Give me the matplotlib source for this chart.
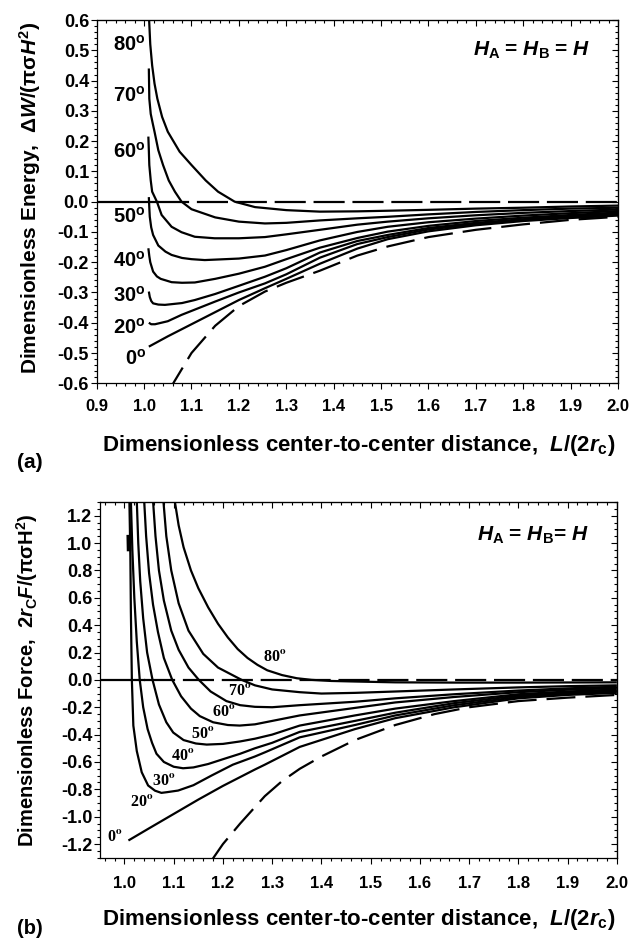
import numpy as np
import matplotlib
matplotlib.use('Agg')
import matplotlib.pyplot as plt
from matplotlib.ticker import MultipleLocator, NullFormatter, FuncFormatter

plt.rcParams['font.family'] = ['Liberation Sans', 'DejaVu Sans']
plt.rcParams['font.weight'] = 'bold'
plt.rcParams['axes.unicode_minus'] = False
plt.rcParams['mathtext.fontset'] = 'custom'
plt.rcParams['mathtext.rm'] = 'Liberation Sans:bold'
plt.rcParams['mathtext.it'] = 'Liberation Sans:italic:bold'
plt.rcParams['mathtext.bf'] = 'Liberation Sans:bold'
plt.rcParams['mathtext.sf'] = 'Liberation Sans:bold'

# ---- panel (a): dimensionless energy ----
ea80_x = [1.010, 1.013, 1.017, 1.022, 1.028, 1.038, 1.050, 1.075, 1.100, 1.130, 1.156, 1.191, 1.234, 1.30, 1.371, 1.45, 1.514, 1.6, 1.7, 1.8, 1.9, 2.0]
ea80_y = [0.62, 0.52, 0.45, 0.39, 0.34, 0.28, 0.231, 0.165, 0.121, 0.07, 0.033, 0.0, -0.018, -0.028, -0.033, -0.032, -0.030, -0.027, -0.023, -0.020, -0.016, -0.013]
ea70_x = [1.010, 1.011, 1.014, 1.018, 1.022, 1.030, 1.040, 1.052, 1.065, 1.079, 1.10, 1.15, 1.20, 1.255, 1.30, 1.371, 1.45, 1.514, 1.6, 1.7, 1.8, 1.9, 2.0]
ea70_y = [0.44, 0.34, 0.29, 0.26, 0.231, 0.17, 0.121, 0.07, 0.033, 0.0, -0.025, -0.052, -0.066, -0.072, -0.070, -0.062, -0.055, -0.050, -0.042, -0.034, -0.028, -0.023, -0.020]
ea60_x = [1.009, 1.010, 1.011, 1.014, 1.017, 1.027, 1.037, 1.058, 1.079, 1.107, 1.149, 1.20, 1.255, 1.30, 1.371, 1.45, 1.514, 1.6, 1.7, 1.8, 1.9, 2.0]
ea60_y = [0.215, 0.17, 0.121, 0.07, 0.033, 0.0, -0.044, -0.083, -0.101, -0.116, -0.121, -0.121, -0.117, -0.108, -0.093, -0.076, -0.066, -0.055, -0.045, -0.037, -0.031, -0.026]
ea50_x = [1.010, 1.011, 1.012, 1.015, 1.019, 1.03, 1.045, 1.058, 1.08, 1.10, 1.128, 1.2, 1.255, 1.30, 1.371, 1.45, 1.514, 1.6, 1.7, 1.8, 1.9, 2.0]
ea50_y = [0.015, -0.02, -0.05, -0.085, -0.11, -0.145, -0.165, -0.176, -0.186, -0.19, -0.193, -0.188, -0.178, -0.160, -0.128, -0.100, -0.083, -0.068, -0.056, -0.046, -0.038, -0.031]
ea40_x = [1.009, 1.011, 1.013, 1.019, 1.027, 1.035, 1.058, 1.08, 1.107, 1.15, 1.2, 1.255, 1.30, 1.371, 1.45, 1.514, 1.6, 1.7, 1.8, 1.9, 2.0]
ea40_y = [-0.154, -0.18, -0.20, -0.231, -0.247, -0.255, -0.266, -0.268, -0.267, -0.255, -0.238, -0.215, -0.19, -0.152, -0.12, -0.099, -0.08, -0.064, -0.053, -0.044, -0.036]
ea30_x = [1.010, 1.012, 1.015, 1.019, 1.03, 1.044, 1.08, 1.107, 1.15, 1.2, 1.255, 1.30, 1.371, 1.45, 1.514, 1.6, 1.7, 1.8, 1.9, 2.0]
ea30_y = [-0.297, -0.315, -0.328, -0.336, -0.340, -0.341, -0.335, -0.325, -0.305, -0.278, -0.248, -0.22, -0.168, -0.13, -0.11, -0.087, -0.070, -0.058, -0.048, -0.040]
ea20_x = [1.010, 1.015, 1.023, 1.05, 1.079, 1.15, 1.2, 1.255, 1.30, 1.371, 1.45, 1.514, 1.6, 1.7, 1.8, 1.9, 2.0]
ea20_y = [-0.400, -0.405, -0.405, -0.395, -0.374, -0.33, -0.30, -0.27, -0.24, -0.185, -0.14, -0.117, -0.092, -0.074, -0.061, -0.051, -0.043]
ea0_x = [1.010, 1.05, 1.1, 1.15, 1.2, 1.255, 1.30, 1.371, 1.45, 1.514, 1.6, 1.7, 1.8, 1.9, 2.0]
ea0_y = [-0.479, -0.445, -0.405, -0.365, -0.325, -0.286, -0.255, -0.205, -0.155, -0.124, -0.098, -0.078, -0.064, -0.054, -0.046]
ea_lim_x = [1.05, 1.1, 1.15, 1.2, 1.255, 1.30, 1.371, 1.45, 1.514, 1.6, 1.7, 1.8, 1.9, 2.0]
ea_lim_y = [-0.63, -0.50, -0.41, -0.345, -0.297, -0.268, -0.228, -0.178, -0.148, -0.117, -0.093, -0.075, -0.060, -0.050]

# ---- panel (b): dimensionless force ----
fb80_x = [1.102, 1.11, 1.12, 1.135, 1.15, 1.17, 1.19, 1.21, 1.23, 1.25, 1.27, 1.29, 1.32, 1.35, 1.38, 1.42, 1.468, 1.55, 1.67, 1.8, 1.9, 2.0]
fb80_y = [1.31, 1.13, 0.97, 0.80, 0.67, 0.53, 0.41, 0.31, 0.225, 0.16, 0.11, 0.07, 0.035, 0.012, 0.0, -0.008, -0.012, -0.018, -0.02, -0.02, -0.019, -0.018]
fb70_x = [1.079, 1.085, 1.095, 1.11, 1.13, 1.16, 1.19, 1.238, 1.265, 1.30, 1.356, 1.40, 1.468, 1.55, 1.67, 1.8, 1.9, 2.0]
fb70_y = [1.31, 1.05, 0.80, 0.56, 0.36, 0.19, 0.09, 0.0, -0.04, -0.07, -0.09, -0.10, -0.095, -0.085, -0.07, -0.055, -0.046, -0.04]
fb60_x = [1.058, 1.063, 1.07, 1.08, 1.095, 1.11, 1.13, 1.151, 1.175, 1.207, 1.235, 1.265, 1.30, 1.356, 1.468, 1.55, 1.67, 1.8, 1.9, 2.0]
fb60_y = [1.31, 1.05, 0.80, 0.58, 0.36, 0.22, 0.09, 0.0, -0.085, -0.155, -0.185, -0.197, -0.2, -0.185, -0.16, -0.135, -0.105, -0.078, -0.062, -0.05]
fb50_x = [1.040, 1.044, 1.05, 1.058, 1.068, 1.08, 1.097, 1.115, 1.135, 1.153, 1.18, 1.21, 1.234, 1.265, 1.30, 1.356, 1.468, 1.55, 1.67, 1.8, 1.9, 2.0]
fb50_y = [1.31, 1.05, 0.78, 0.55, 0.35, 0.16, 0.0, -0.12, -0.21, -0.265, -0.31, -0.33, -0.334, -0.325, -0.30, -0.26, -0.205, -0.165, -0.125, -0.09, -0.072, -0.06]
fb40_x = [1.025, 1.028, 1.032, 1.038, 1.046, 1.057, 1.07, 1.085, 1.099, 1.12, 1.145, 1.167, 1.2, 1.235, 1.265, 1.30, 1.356, 1.468, 1.55, 1.67, 1.8, 1.9, 2.0]
fb40_y = [1.31, 1.0, 0.72, 0.45, 0.2, 0.0, -0.18, -0.31, -0.385, -0.44, -0.465, -0.473, -0.468, -0.45, -0.43, -0.4, -0.334, -0.26, -0.21, -0.155, -0.105, -0.085, -0.07]
fb30_x = [1.013, 1.016, 1.02, 1.025, 1.031, 1.038, 1.047, 1.056, 1.065, 1.08, 1.10, 1.119, 1.14, 1.17, 1.2, 1.235, 1.265, 1.30, 1.356, 1.468, 1.55, 1.67, 1.8, 1.9, 2.0]
fb30_y = [1.31, 0.95, 0.6, 0.28, 0.0, -0.2, -0.36, -0.46, -0.54, -0.6, -0.635, -0.646, -0.64, -0.615, -0.58, -0.54, -0.50, -0.46, -0.38, -0.30, -0.24, -0.17, -0.115, -0.095, -0.08]
fb20_x = [1.010, 1.012, 1.013, 1.015, 1.018, 1.025, 1.035, 1.048, 1.062, 1.075, 1.086, 1.109, 1.14, 1.177, 1.22, 1.265, 1.285, 1.356, 1.468, 1.55, 1.67, 1.8, 1.9, 2.0]
fb20_y = [1.31, 0.9, 0.5, 0.0, -0.334, -0.52, -0.675, -0.772, -0.81, -0.826, -0.821, -0.809, -0.77, -0.699, -0.62, -0.56, -0.53, -0.42, -0.33, -0.26, -0.185, -0.125, -0.1, -0.085]
fb0_x = [1.008, 1.05, 1.1, 1.15, 1.2, 1.265, 1.285, 1.356, 1.468, 1.55, 1.67, 1.8, 1.9, 2.0]
fb0_y = [-1.174, -1.085, -0.98, -0.875, -0.775, -0.655, -0.62, -0.49, -0.36, -0.28, -0.20, -0.135, -0.11, -0.095]
fb_lim_x = [1.175, 1.2, 1.235, 1.265, 1.285, 1.32, 1.356, 1.40, 1.468, 1.55, 1.63, 1.7, 1.8, 1.9, 2.0]
fb_lim_y = [-1.33, -1.2, -1.05, -0.93, -0.85, -0.74, -0.65, -0.56, -0.44, -0.33, -0.25, -0.2, -0.155, -0.13, -0.11]
fb_spur_x = [1.0085, 1.0092]
fb_spur_y = [1.06, 0.94]

angles = ['0', '20', '30', '40', '50', '60', '70', '80']
# label anchors (right edge x, centre y) for panel (a)
lab_a_x = [1.004] * 8
lab_a_y = [-0.52, -0.415, -0.31, -0.195, -0.05, 0.165, 0.35, 0.52]
# label anchors for panel (b)
lab_b_x = [0.981, 1.035, 1.079, 1.119, 1.160, 1.201, 1.234, 1.305]
lab_b_y = [-1.15, -0.894, -0.736, -0.553, -0.395, -0.236, -0.078, 0.165]

fig = plt.figure(figsize=(6.32, 9.41), dpi=100)
ax1 = fig.add_axes([0.153, 0.5927, 0.825, 0.386])
ax2 = fig.add_axes([0.158, 0.0885, 0.818, 0.378])

lw = 1.6
dash_zero = (0, (14, 3.5))
dash_lim = (0, (13, 4.5))
fmt = FuncFormatter(lambda v, p: '%.1f' % (round(v, 1) + 0.0))

# panel (a)
for xs, ys in [(ea80_x, ea80_y), (ea70_x, ea70_y), (ea60_x, ea60_y), (ea50_x, ea50_y),
               (ea40_x, ea40_y), (ea30_x, ea30_y), (ea20_x, ea20_y), (ea0_x, ea0_y)]:
    ax1.plot(xs, ys, 'k-', lw=lw, solid_capstyle='butt')
ax1.plot(ea_lim_x, ea_lim_y, color='k', lw=lw, linestyle=dash_lim, dash_capstyle='butt')
ax1.plot([0.9, 1.03], [0, 0], 'k-', lw=lw)
ax1.plot([1.03, 2.0], [0, 0], color='k', lw=lw, linestyle=dash_zero, dash_capstyle='butt')
ax1.set_xlim(0.9, 2.0)
ax1.set_ylim(-0.6, 0.6)
ax1.xaxis.set_major_locator(MultipleLocator(0.1))
ax1.xaxis.set_minor_locator(MultipleLocator(0.02))
ax1.yaxis.set_major_locator(MultipleLocator(0.1))
ax1.yaxis.set_minor_locator(MultipleLocator(0.02))
for i, a in enumerate(angles):
    ax1.text(lab_a_x[i], lab_a_y[i], a + r'$^\mathrm{o}$', fontsize=14.5, fontweight='bold',
             ha='right', va='center')
ax1.text(1.694, 0.50, r'$H_\mathrm{A}$ = $H_\mathrm{B}$ = $H$', fontsize=15, fontweight='bold',
         ha='left', va='center')

# panel (b)
for xs, ys in [(fb80_x, fb80_y), (fb70_x, fb70_y), (fb60_x, fb60_y), (fb50_x, fb50_y),
               (fb40_x, fb40_y), (fb30_x, fb30_y), (fb20_x, fb20_y), (fb0_x, fb0_y)]:
    ax2.plot(xs, ys, 'k-', lw=lw, solid_capstyle='butt')
ax2.plot(fb_spur_x, fb_spur_y, 'k-', lw=3.2, solid_capstyle='butt')
ax2.plot(fb_lim_x, fb_lim_y, color='k', lw=lw, linestyle=dash_lim, dash_capstyle='butt')
ax2.plot([0.95, 1.04], [0, 0], 'k-', lw=lw)
ax2.plot([1.04, 2.0], [0, 0], color='k', lw=lw, linestyle=dash_zero, dash_capstyle='butt')
ax2.set_xlim(0.95, 2.0)
ax2.set_ylim(-1.3, 1.3)
ax2.set_xticks(np.arange(1.0, 2.01, 0.1))
ax2.xaxis.set_minor_locator(MultipleLocator(0.02))
ax2.set_yticks(np.arange(-1.2, 1.21, 0.2))
ax2.yaxis.set_minor_locator(MultipleLocator(0.05))
for i, a in enumerate(angles):
    ax2.text(lab_b_x[i], lab_b_y[i], a + r'$^\mathbf{o}$', fontsize=11.5, fontweight='bold',
             family='Liberation Serif', math_fontfamily='stix', ha='center', va='center')
ax2.text(1.715, 1.054, r'$H_\mathrm{A}$ = $H_\mathrm{B}$= $H$', fontsize=15, fontweight='bold',
         ha='left', va='center')

for ax, xpad in [(ax1, 7), (ax2, 9.5)]:
    ax.xaxis.set_major_formatter(fmt)
    ax.yaxis.set_major_formatter(fmt)
    for sp in ax.spines.values():
        sp.set_linewidth(0.9)
    ax.tick_params(which='both', direction='out', top=False, right=False, width=0.8)
    ax.tick_params(which='major', length=4)
    ax.tick_params(which='minor', length=2.2)
    ax.tick_params(axis='x', pad=xpad, labelsize=12)
    ax.tick_params(axis='y', pad=1.5, labelsize=13)
    for lab in ax.get_xticklabels() + ax.get_yticklabels():
        lab.set_fontweight('bold')
    # inward ticks on the top and right
    sx = ax.secondary_xaxis('top')
    sx.xaxis.set_major_locator(ax.xaxis.get_major_locator())
    sx.xaxis.set_minor_locator(ax.xaxis.get_minor_locator())
    sx.xaxis.set_major_formatter(NullFormatter())
    sx.tick_params(which='both', direction='in', width=0.8)
    sx.tick_params(which='major', length=4)
    sx.tick_params(which='minor', length=2.2)
    sy = ax.secondary_yaxis('right')
    sy.yaxis.set_major_locator(ax.yaxis.get_major_locator())
    sy.yaxis.set_minor_locator(ax.yaxis.get_minor_locator())
    sy.yaxis.set_major_formatter(NullFormatter())
    sy.tick_params(which='both', direction='in', width=0.8)
    sy.tick_params(which='major', length=4)
    sy.tick_params(which='minor', length=2.2)

W, H = 632.0, 941.0
xl = r'Dimensionless center-to-center distance,  $L/(2r_\mathrm{c})$'
fig.text(359 / W, 1 - 445 / H, xl, fontsize=16, fontweight='bold', ha='center', va='center')
fig.text(359 / W, 1 - 920 / H, xl, fontsize=16, fontweight='bold', ha='center', va='center')
fig.text(30 / W, 1 - 197.5 / H, r'Dimensionless Energy,  $\Delta W/(\mathrm{\pi\sigma}H^2)$',
         fontsize=15, fontweight='bold', rotation=90, ha='center', va='center')
fig.text(27 / W, 1 - 680 / H, r'Dimensionless Force,  $2r_\mathrm{C}F/(\mathrm{\pi\sigma H}^2)$',
         fontsize=14.5, fontweight='bold', rotation=90, ha='center', va='center')
fig.text(30 / W, 1 - 463 / H, '(a)', fontsize=15, fontweight='bold', ha='center', va='center')
fig.text(30 / W, 1 - 929 / H, '(b)', fontsize=14.5, fontweight='bold', ha='center', va='center')

fig.savefig('out.png', dpi=100)
